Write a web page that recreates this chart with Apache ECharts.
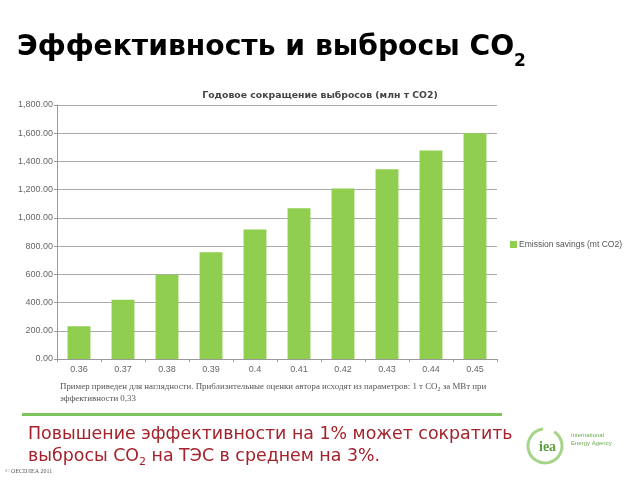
<!DOCTYPE html>
<html><head><meta charset="utf-8">
<script src="https://cdn.jsdelivr.net/npm/echarts@6/dist/echarts.min.js"></script>
<style>html,body{margin:0;padding:0;background:#fff}#c{width:640px;height:480px}</style>
</head><body><div id="c"></div>
<script>
const categories = ['0.36','0.37','0.38','0.39','0.4','0.41','0.42','0.43','0.44','0.45'];
const savings = [232, 420, 597, 757, 918, 1068, 1208, 1345, 1478, 1600];
const seriesName = 'Emission savings (mt CO2)';
const chartTitle = 'Годовое сокращение выбросов (млн т CO2)';
const yTicks = {min: 0, max: 1800, interval: 200};

const chart = echarts.init(document.getElementById('c'), null, {renderer: 'canvas'});
function fmt(v){ return v.toFixed(2).replace(/\B(?=(\d{3})+(?!\d))/g, ','); }
chart.setOption({
  animation: false,
  backgroundColor: '#fff',
  title: [
    { left: 12, top: 29,
      text: '{a|Эффективность и выбросы CO}{s|2}',
      textStyle: { rich: {
        a: {fontFamily: 'DejaVu Sans', fontWeight: 'bold', fontSize: 28.2, color: '#000', lineHeight: 32, verticalAlign: 'top'},
        s: {fontFamily: 'DejaVu Sans', fontWeight: 'bold', fontSize: 17, color: '#000', lineHeight: 36, verticalAlign: 'bottom'}
      }}
    },
    { left: 'center', top: 86, text: chartTitle,
      textStyle: {fontFamily: 'DejaVu Sans', fontWeight: 'bold', fontSize: 9.3, color: '#444'} }
  ],
  legend: {
    left: 505, top: 235, orient: 'vertical', itemWidth: 7, itemHeight: 7, itemGap: 4,
    icon: 'rect',
    textStyle: {fontFamily: 'Liberation Sans', fontSize: 8.5, color: '#555', padding: [0,0,0,-3]},
    data: [seriesName]
  },
  grid: {left: 57, right: 143, top: 105, bottom: 121, containLabel: false},
  xAxis: {
    type: 'category', data: categories,
    axisLine: {lineStyle: {color: '#999'}},
    axisTick: {show: true, alignWithLabel: false, length: 3, lineStyle: {color: '#999'}},
    axisLabel: {fontFamily: 'Liberation Sans', fontSize: 9, color: '#666', margin: 6}
  },
  yAxis: {
    type: 'value', min: yTicks.min, max: yTicks.max, interval: yTicks.interval,
    axisLine: {show: true, lineStyle: {color: '#999'}},
    axisTick: {show: true, length: 3, lineStyle: {color: '#999'}},
    axisLabel: {fontFamily: 'Liberation Sans', fontSize: 9, color: '#666', margin: 4, formatter: fmt},
    splitLine: {lineStyle: {color: '#aaa', width: 1}}
  },
  series: [{
    name: seriesName, type: 'bar', data: savings, barWidth: '52%',
    itemStyle: {color: '#8fce4f'}
  }],
  graphic: [
    { type: 'text', left: 60, top: 381, style: {
        text: 'Пример приведен для наглядности. Приблизительные оценки автора исходят из параметров: 1 т CO{s|2} за МВт при\nэффективности 0,33',
        fontFamily: 'Liberation Serif', fontSize: 8.9, fill: '#555', lineHeight: 12,
        rich: {s: {fontFamily: 'Liberation Serif', fontSize: 6, fill: '#555', padding: [5,0,0,0]}} } },
    { type: 'rect', shape: {x: 22, y: 413, width: 480, height: 3}, style: {fill: '#7dc35b'} },
    { type: 'text', left: 28, top: 423, style: {
        text: 'Повышение эффективности на 1% может сократить\nвыбросы CO{s|2} на ТЭС в среднем на 3%.',
        fontFamily: 'DejaVu Sans', fontSize: 17.4, fill: '#a3222b', lineHeight: 22,
        rich: {s: {fontFamily: 'DejaVu Sans', fontSize: 11, fill: '#a3222b', padding: [12,0,0,0]}} } },
    { type: 'arc', shape: {cx: 545, cy: 446, r: 17, startAngle: -1.0, endAngle: 4.6}, style: {stroke: '#a6d58a', lineWidth: 3, fill: null} },
    { type: 'text', left: 539, top: 440, style: {text: 'iea', fontFamily: 'Liberation Serif', fontWeight: 'bold', fontSize: 14, fill: '#5e9e3e'} },
    { type: 'text', left: 571, top: 432, style: {text: 'International\nEnergy Agency', fontFamily: 'Liberation Sans', fontSize: 6, lineHeight: 7.5, fill: '#6aa84f'} },
    { type: 'text', left: 5, top: 468, style: {text: '© OECD/IEA 2011', fontFamily: 'Liberation Serif', fontSize: 6, fill: '#555'} }
  ]
});
</script></body></html>
